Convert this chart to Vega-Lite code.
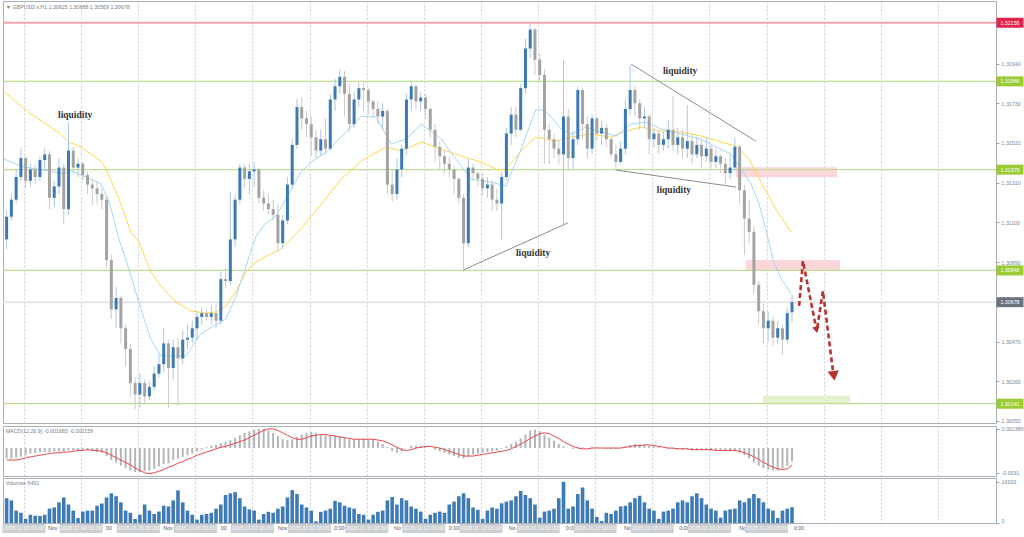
{
"$schema":"https://vega.github.io/schema/vega-lite/v6.json",
"background":"#ffffff",
"padding":{"left":0,"top":0,"right":0,"bottom":0},
"spacing":0,
"config":{
 "view":{"stroke":"#a9b0b8","strokeWidth":1},
 "axis":{"labelFont":"Liberation Sans","labelFontSize":5.3,"labelColor":"#7d8995","tickColor":"#9aa3ac","tickSize":3,"domain":false,"labelPadding":2},
 "text":{"font":"Liberation Sans"}
},
"datasets":{
"c":[
{"k":0,"o":1.3101,"h":1.3116,"l":1.3096,"c":1.3113,"v":10200,"m":-0.0013,"s":-0.0015},
{"k":1,"o":1.3113,"h":1.3125,"l":1.3111,"c":1.3122,"v":9300,"m":-0.0013,"s":-0.0015},
{"k":2,"o":1.3122,"h":1.3138,"l":1.3120,"c":1.3134,"v":5100,"m":-0.0012,"s":-0.0015},
{"k":3,"o":1.3134,"h":1.3149,"l":1.3132,"c":1.3144,"v":4200,"m":-0.0011,"s":-0.0014},
{"k":4,"o":1.3144,"h":1.3145,"l":1.3128,"c":1.3132,"v":1700,"m":-0.0009,"s":-0.0012},
{"k":5,"o":1.3132,"h":1.3141,"l":1.3129,"c":1.3138,"v":3400,"m":-0.0007,"s":-0.0011},
{"k":6,"o":1.3138,"h":1.3140,"l":1.3130,"c":1.3134,"v":3000,"m":-0.0006,"s":-0.0010},
{"k":7,"o":1.3134,"h":1.3145,"l":1.3132,"c":1.3143,"v":2900,"m":-0.0005,"s":-0.0009},
{"k":8,"o":1.3143,"h":1.3149,"l":1.3138,"c":1.3146,"v":3400,"m":-0.0005,"s":-0.0008},
{"k":9,"o":1.3146,"h":1.3148,"l":1.3117,"c":1.3123,"v":5900,"m":-0.0005,"s":-0.0007},
{"k":10,"o":1.3123,"h":1.3132,"l":1.3118,"c":1.3129,"v":6400,"m":-0.0004,"s":-0.0006},
{"k":11,"o":1.3129,"h":1.3144,"l":1.3125,"c":1.3139,"v":8500,"m":-0.0004,"s":-0.0006},
{"k":12,"o":1.3139,"h":1.3141,"l":1.3109,"c":1.3117,"v":10500,"m":-0.0004,"s":-0.0005},
{"k":13,"o":1.3117,"h":1.3163,"l":1.3114,"c":1.3148,"v":7600,"m":-0.0003,"s":-0.0005},
{"k":14,"o":1.3148,"h":1.3150,"l":1.3137,"c":1.3139,"v":5100,"m":-0.0003,"s":-0.0004},
{"k":15,"o":1.3139,"h":1.3144,"l":1.3134,"c":1.3141,"v":2000,"m":-0.0003,"s":-0.0003},
{"k":16,"o":1.3141,"h":1.3142,"l":1.3132,"c":1.3135,"v":4700,"m":-0.0003,"s":-0.0003},
{"k":17,"o":1.3135,"h":1.3137,"l":1.3125,"c":1.3130,"v":5100,"m":-0.0003,"s":-0.0002},
{"k":18,"o":1.3130,"h":1.3133,"l":1.3119,"c":1.3128,"v":5100,"m":-0.0004,"s":-0.0003},
{"k":19,"o":1.3128,"h":1.3132,"l":1.3120,"c":1.3125,"v":7100,"m":-0.0005,"s":-0.0003},
{"k":20,"o":1.3125,"h":1.3128,"l":1.3117,"c":1.3122,"v":8000,"m":-0.0006,"s":-0.0004},
{"k":21,"o":1.3122,"h":1.3124,"l":1.3086,"c":1.3090,"v":10500,"m":-0.0010,"s":-0.0006},
{"k":22,"o":1.3090,"h":1.3093,"l":1.3059,"c":1.3064,"v":12200,"m":-0.0015,"s":-0.0009},
{"k":23,"o":1.3064,"h":1.3076,"l":1.3054,"c":1.3070,"v":11000,"m":-0.0018,"s":-0.0012},
{"k":24,"o":1.3070,"h":1.3071,"l":1.3046,"c":1.3054,"v":8500,"m":-0.0022,"s":-0.0015},
{"k":25,"o":1.3054,"h":1.3056,"l":1.3034,"c":1.3043,"v":5100,"m":-0.0025,"s":-0.0018},
{"k":26,"o":1.3043,"h":1.3046,"l":1.3018,"c":1.3025,"v":4200,"m":-0.0028,"s":-0.0021},
{"k":27,"o":1.3025,"h":1.3028,"l":1.3011,"c":1.3019,"v":1700,"m":-0.0030,"s":-0.0025},
{"k":28,"o":1.3019,"h":1.3030,"l":1.3012,"c":1.3025,"v":3400,"m":-0.0030,"s":-0.0028},
{"k":29,"o":1.3025,"h":1.3027,"l":1.3014,"c":1.3018,"v":7600,"m":-0.0029,"s":-0.0031},
{"k":30,"o":1.3018,"h":1.3026,"l":1.3016,"c":1.3023,"v":5100,"m":-0.0028,"s":-0.0032},
{"k":31,"o":1.3023,"h":1.3034,"l":1.3021,"c":1.3030,"v":3700,"m":-0.0026,"s":-0.0031},
{"k":32,"o":1.3030,"h":1.3040,"l":1.3028,"c":1.3035,"v":4700,"m":-0.0023,"s":-0.0029},
{"k":33,"o":1.3035,"h":1.3054,"l":1.3031,"c":1.3046,"v":7100,"m":-0.0020,"s":-0.0027},
{"k":34,"o":1.3046,"h":1.3048,"l":1.3012,"c":1.3033,"v":6800,"m":-0.0019,"s":-0.0024},
{"k":35,"o":1.3033,"h":1.3048,"l":1.3027,"c":1.3044,"v":9300,"m":-0.0015,"s":-0.0022},
{"k":36,"o":1.3044,"h":1.3049,"l":1.3013,"c":1.3038,"v":13400,"m":-0.0013,"s":-0.0019},
{"k":37,"o":1.3038,"h":1.3053,"l":1.3035,"c":1.3048,"v":8500,"m":-0.0011,"s":-0.0017},
{"k":38,"o":1.3048,"h":1.3056,"l":1.3043,"c":1.3049,"v":5100,"m":-0.0009,"s":-0.0014},
{"k":39,"o":1.3049,"h":1.3058,"l":1.3046,"c":1.3054,"v":3400,"m":-0.0007,"s":-0.0012},
{"k":40,"o":1.3054,"h":1.3063,"l":1.3048,"c":1.3060,"v":1400,"m":-0.0004,"s":-0.0009},
{"k":41,"o":1.3060,"h":1.3065,"l":1.3056,"c":1.3062,"v":3400,"m":-0.0002,"s":-0.0007},
{"k":42,"o":1.3062,"h":1.3064,"l":1.3058,"c":1.3060,"v":3700,"m":0.0001,"s":-0.0005},
{"k":43,"o":1.3060,"h":1.3066,"l":1.3056,"c":1.3062,"v":4200,"m":0.0003,"s":-0.0003},
{"k":44,"o":1.3062,"h":1.3067,"l":1.3054,"c":1.3058,"v":5900,"m":0.0004,"s":-0.0001},
{"k":45,"o":1.3058,"h":1.3084,"l":1.3056,"c":1.3080,"v":7600,"m":0.0006,"s":0.0001},
{"k":46,"o":1.3080,"h":1.3086,"l":1.3075,"c":1.3079,"v":11500,"m":0.0008,"s":0.0002},
{"k":47,"o":1.3079,"h":1.3126,"l":1.3077,"c":1.3101,"v":12200,"m":0.0010,"s":0.0004},
{"k":48,"o":1.3101,"h":1.3125,"l":1.3097,"c":1.3122,"v":12700,"m":0.0013,"s":0.0006},
{"k":49,"o":1.3122,"h":1.3141,"l":1.3120,"c":1.3139,"v":10200,"m":0.0016,"s":0.0008},
{"k":50,"o":1.3139,"h":1.3141,"l":1.3128,"c":1.3133,"v":6800,"m":0.0019,"s":0.0010},
{"k":51,"o":1.3133,"h":1.3141,"l":1.3125,"c":1.3137,"v":5600,"m":0.0021,"s":0.0013},
{"k":52,"o":1.3137,"h":1.3142,"l":1.3129,"c":1.3138,"v":5100,"m":0.0023,"s":0.0016},
{"k":53,"o":1.3138,"h":1.3139,"l":1.3120,"c":1.3123,"v":1400,"m":0.0024,"s":0.0019},
{"k":54,"o":1.3123,"h":1.3127,"l":1.3116,"c":1.3120,"v":3700,"m":0.0024,"s":0.0022},
{"k":55,"o":1.3120,"h":1.3125,"l":1.3114,"c":1.3117,"v":4600,"m":0.0022,"s":0.0024},
{"k":56,"o":1.3117,"h":1.3122,"l":1.3111,"c":1.3114,"v":4200,"m":0.0019,"s":0.0024},
{"k":57,"o":1.3114,"h":1.3120,"l":1.3095,"c":1.3099,"v":5900,"m":0.0015,"s":0.0022},
{"k":58,"o":1.3099,"h":1.3114,"l":1.3096,"c":1.3111,"v":6800,"m":0.0011,"s":0.0019},
{"k":59,"o":1.3111,"h":1.3134,"l":1.3109,"c":1.3130,"v":10500,"m":0.0010,"s":0.0016},
{"k":60,"o":1.3130,"h":1.3154,"l":1.3128,"c":1.3151,"v":13500,"m":0.0011,"s":0.0013},
{"k":61,"o":1.3151,"h":1.3175,"l":1.3149,"c":1.3171,"v":11900,"m":0.0014,"s":0.0011},
{"k":62,"o":1.3171,"h":1.3176,"l":1.3159,"c":1.3165,"v":7600,"m":0.0017,"s":0.0011},
{"k":63,"o":1.3165,"h":1.3169,"l":1.3155,"c":1.3162,"v":6400,"m":0.0019,"s":0.0013},
{"k":64,"o":1.3162,"h":1.3166,"l":1.3145,"c":1.3155,"v":5100,"m":0.0020,"s":0.0015},
{"k":65,"o":1.3155,"h":1.3159,"l":1.3144,"c":1.3148,"v":700,"m":0.0019,"s":0.0016},
{"k":66,"o":1.3148,"h":1.3159,"l":1.3145,"c":1.3154,"v":4600,"m":0.0017,"s":0.0017},
{"k":67,"o":1.3154,"h":1.3165,"l":1.3146,"c":1.3149,"v":5100,"m":0.0016,"s":0.0017},
{"k":68,"o":1.3149,"h":1.3178,"l":1.3148,"c":1.3175,"v":5900,"m":0.0016,"s":0.0016},
{"k":69,"o":1.3175,"h":1.3186,"l":1.3169,"c":1.3182,"v":9100,"m":0.0015,"s":0.0015},
{"k":70,"o":1.3182,"h":1.3191,"l":1.3178,"c":1.3187,"v":8500,"m":0.0015,"s":0.0014},
{"k":71,"o":1.3187,"h":1.3190,"l":1.3166,"c":1.3178,"v":7100,"m":0.0013,"s":0.0013},
{"k":72,"o":1.3178,"h":1.3183,"l":1.3158,"c":1.3162,"v":6400,"m":0.0011,"s":0.0012},
{"k":73,"o":1.3162,"h":1.3179,"l":1.3160,"c":1.3175,"v":5900,"m":0.0011,"s":0.0011},
{"k":74,"o":1.3175,"h":1.3184,"l":1.3171,"c":1.3181,"v":3700,"m":0.0011,"s":0.0011},
{"k":75,"o":1.3181,"h":1.3184,"l":1.3169,"c":1.3180,"v":3400,"m":0.0012,"s":0.0011},
{"k":76,"o":1.3180,"h":1.3181,"l":1.3167,"c":1.3174,"v":1400,"m":0.0011,"s":0.0011},
{"k":77,"o":1.3174,"h":1.3175,"l":1.3166,"c":1.3170,"v":3400,"m":0.0010,"s":0.0011},
{"k":78,"o":1.3170,"h":1.3174,"l":1.3162,"c":1.3166,"v":4600,"m":0.0008,"s":0.0010},
{"k":79,"o":1.3166,"h":1.3173,"l":1.3159,"c":1.3169,"v":5100,"m":0.0005,"s":0.0009},
{"k":80,"o":1.3169,"h":1.3170,"l":1.3125,"c":1.3130,"v":9300,"m":0.0001,"s":0.0007},
{"k":81,"o":1.3130,"h":1.3138,"l":1.3121,"c":1.3125,"v":10700,"m":-0.0004,"s":0.0004},
{"k":82,"o":1.3125,"h":1.3144,"l":1.3122,"c":1.3138,"v":7600,"m":-0.0006,"s":0.0001},
{"k":83,"o":1.3138,"h":1.3151,"l":1.3134,"c":1.3149,"v":10200,"m":-0.0004,"s":-0.0002},
{"k":84,"o":1.3149,"h":1.3178,"l":1.3146,"c":1.3175,"v":9300,"m":0.0000,"s":-0.0003},
{"k":85,"o":1.3175,"h":1.3185,"l":1.3169,"c":1.3182,"v":6800,"m":0.0003,"s":-0.0002},
{"k":86,"o":1.3182,"h":1.3183,"l":1.3170,"c":1.3174,"v":5900,"m":0.0003,"s":0.0000},
{"k":87,"o":1.3174,"h":1.3179,"l":1.3169,"c":1.3176,"v":4700,"m":0.0003,"s":0.0001},
{"k":88,"o":1.3176,"h":1.3178,"l":1.3165,"c":1.3170,"v":1700,"m":0.0002,"s":0.0002},
{"k":89,"o":1.3170,"h":1.3171,"l":1.3155,"c":1.3159,"v":3400,"m":0.0000,"s":0.0002},
{"k":90,"o":1.3159,"h":1.3162,"l":1.3142,"c":1.3150,"v":4200,"m":-0.0002,"s":0.0001},
{"k":91,"o":1.3150,"h":1.3153,"l":1.3138,"c":1.3145,"v":4700,"m":-0.0004,"s":0.0000},
{"k":92,"o":1.3145,"h":1.3148,"l":1.3136,"c":1.3141,"v":4200,"m":-0.0006,"s":-0.0002},
{"k":93,"o":1.3141,"h":1.3145,"l":1.3134,"c":1.3138,"v":7600,"m":-0.0008,"s":-0.0004},
{"k":94,"o":1.3138,"h":1.3140,"l":1.3125,"c":1.3133,"v":8800,"m":-0.0010,"s":-0.0006},
{"k":95,"o":1.3133,"h":1.3134,"l":1.3120,"c":1.3123,"v":11000,"m":-0.0012,"s":-0.0008},
{"k":96,"o":1.3123,"h":1.3125,"l":1.3085,"c":1.3099,"v":12200,"m":-0.0013,"s":-0.0010},
{"k":97,"o":1.3099,"h":1.3144,"l":1.3097,"c":1.3139,"v":10200,"m":-0.0011,"s":-0.0010},
{"k":98,"o":1.3139,"h":1.3141,"l":1.3132,"c":1.3136,"v":6400,"m":-0.0008,"s":-0.0010},
{"k":99,"o":1.3136,"h":1.3137,"l":1.3129,"c":1.3133,"v":5400,"m":-0.0007,"s":-0.0009},
{"k":100,"o":1.3133,"h":1.3136,"l":1.3124,"c":1.3128,"v":1700,"m":-0.0006,"s":-0.0008},
{"k":101,"o":1.3128,"h":1.3134,"l":1.3123,"c":1.3130,"v":5100,"m":-0.0005,"s":-0.0007},
{"k":102,"o":1.3130,"h":1.3132,"l":1.3116,"c":1.3122,"v":6400,"m":-0.0004,"s":-0.0006},
{"k":103,"o":1.3122,"h":1.3128,"l":1.3116,"c":1.3120,"v":5900,"m":-0.0003,"s":-0.0005},
{"k":104,"o":1.3120,"h":1.3137,"l":1.3101,"c":1.3134,"v":8100,"m":-0.0001,"s":-0.0004},
{"k":105,"o":1.3134,"h":1.3160,"l":1.3132,"c":1.3157,"v":8800,"m":0.0002,"s":-0.0003},
{"k":106,"o":1.3157,"h":1.3171,"l":1.3151,"c":1.3167,"v":9300,"m":0.0005,"s":-0.0001},
{"k":107,"o":1.3167,"h":1.3171,"l":1.3155,"c":1.3159,"v":11000,"m":0.0008,"s":0.0002},
{"k":108,"o":1.3159,"h":1.3183,"l":1.3158,"c":1.3181,"v":13200,"m":0.0012,"s":0.0005},
{"k":109,"o":1.3181,"h":1.3207,"l":1.3178,"c":1.3202,"v":11500,"m":0.0017,"s":0.0008},
{"k":110,"o":1.3202,"h":1.3215,"l":1.3197,"c":1.3212,"v":10200,"m":0.0022,"s":0.0012},
{"k":111,"o":1.3212,"h":1.3213,"l":1.3188,"c":1.3196,"v":7600,"m":0.0023,"s":0.0015},
{"k":112,"o":1.3196,"h":1.3199,"l":1.3185,"c":1.3188,"v":2200,"m":0.0021,"s":0.0018},
{"k":113,"o":1.3188,"h":1.3191,"l":1.3141,"c":1.3159,"v":4700,"m":0.0017,"s":0.0019},
{"k":114,"o":1.3159,"h":1.3162,"l":1.3141,"c":1.3154,"v":5100,"m":0.0013,"s":0.0018},
{"k":115,"o":1.3154,"h":1.3157,"l":1.3144,"c":1.3149,"v":5900,"m":0.0009,"s":0.0015},
{"k":116,"o":1.3149,"h":1.3154,"l":1.3141,"c":1.3146,"v":10200,"m":0.0005,"s":0.0012},
{"k":117,"o":1.3146,"h":1.3196,"l":1.3109,"c":1.3166,"v":16933,"m":0.0002,"s":0.0008},
{"k":118,"o":1.3166,"h":1.3170,"l":1.3137,"c":1.3144,"v":5900,"m":0.0000,"s":0.0005},
{"k":119,"o":1.3144,"h":1.3158,"l":1.3138,"c":1.3154,"v":6800,"m":-0.0001,"s":0.0002},
{"k":120,"o":1.3154,"h":1.3182,"l":1.3151,"c":1.3180,"v":11900,"m":0.0001,"s":0.0000},
{"k":121,"o":1.3180,"h":1.3181,"l":1.3154,"c":1.3162,"v":14600,"m":0.0001,"s":-0.0001},
{"k":122,"o":1.3162,"h":1.3166,"l":1.3144,"c":1.3149,"v":9300,"m":0.0000,"s":-0.0001},
{"k":123,"o":1.3149,"h":1.3167,"l":1.3146,"c":1.3165,"v":5900,"m":0.0001,"s":0.0000},
{"k":124,"o":1.3165,"h":1.3166,"l":1.3153,"c":1.3157,"v":2500,"m":0.0001,"s":0.0000},
{"k":125,"o":1.3157,"h":1.3164,"l":1.3151,"c":1.3160,"v":800,"m":0.0000,"s":0.0000},
{"k":126,"o":1.3160,"h":1.3162,"l":1.3150,"c":1.3154,"v":4200,"m":-0.0001,"s":0.0000},
{"k":127,"o":1.3154,"h":1.3155,"l":1.3144,"c":1.3146,"v":3700,"m":-0.0001,"s":0.0000},
{"k":128,"o":1.3146,"h":1.3151,"l":1.3138,"c":1.3142,"v":5100,"m":-0.0001,"s":0.0000},
{"k":129,"o":1.3142,"h":1.3153,"l":1.3141,"c":1.3149,"v":6800,"m":0.0000,"s":0.0000},
{"k":130,"o":1.3149,"h":1.3175,"l":1.3146,"c":1.3170,"v":7100,"m":0.0002,"s":0.0001},
{"k":131,"o":1.3170,"h":1.3193,"l":1.3167,"c":1.3180,"v":8500,"m":0.0004,"s":0.0002},
{"k":132,"o":1.3180,"h":1.3182,"l":1.3166,"c":1.3173,"v":10200,"m":0.0005,"s":0.0003},
{"k":133,"o":1.3173,"h":1.3175,"l":1.3159,"c":1.3165,"v":11200,"m":0.0005,"s":0.0003},
{"k":134,"o":1.3165,"h":1.3171,"l":1.3160,"c":1.3166,"v":8500,"m":0.0004,"s":0.0004},
{"k":135,"o":1.3166,"h":1.3167,"l":1.3146,"c":1.3154,"v":5900,"m":0.0003,"s":0.0004},
{"k":136,"o":1.3154,"h":1.3160,"l":1.3150,"c":1.3157,"v":5100,"m":0.0002,"s":0.0003},
{"k":137,"o":1.3157,"h":1.3159,"l":1.3146,"c":1.3151,"v":1700,"m":0.0001,"s":0.0002},
{"k":138,"o":1.3151,"h":1.3158,"l":1.3148,"c":1.3154,"v":4700,"m":0.0000,"s":0.0001},
{"k":139,"o":1.3154,"h":1.3164,"l":1.3149,"c":1.3159,"v":5100,"m":-0.0001,"s":0.0000},
{"k":140,"o":1.3159,"h":1.3177,"l":1.3148,"c":1.3151,"v":5900,"m":-0.0001,"s":0.0000},
{"k":141,"o":1.3151,"h":1.3160,"l":1.3146,"c":1.3155,"v":8500,"m":-0.0002,"s":-0.0001},
{"k":142,"o":1.3155,"h":1.3159,"l":1.3144,"c":1.3149,"v":9300,"m":-0.0002,"s":-0.0001},
{"k":143,"o":1.3149,"h":1.3172,"l":1.3144,"c":1.3153,"v":8500,"m":-0.0002,"s":-0.0001},
{"k":144,"o":1.3153,"h":1.3157,"l":1.3141,"c":1.3146,"v":11000,"m":-0.0003,"s":-0.0002},
{"k":145,"o":1.3146,"h":1.3155,"l":1.3144,"c":1.3151,"v":12200,"m":-0.0003,"s":-0.0002},
{"k":146,"o":1.3151,"h":1.3154,"l":1.3139,"c":1.3145,"v":10200,"m":-0.0003,"s":-0.0002},
{"k":147,"o":1.3145,"h":1.3155,"l":1.3142,"c":1.3149,"v":7600,"m":-0.0003,"s":-0.0002},
{"k":148,"o":1.3149,"h":1.3151,"l":1.3138,"c":1.3142,"v":5900,"m":-0.0003,"s":-0.0002},
{"k":149,"o":1.3142,"h":1.3149,"l":1.3139,"c":1.3145,"v":5100,"m":-0.0003,"s":-0.0003},
{"k":150,"o":1.3145,"h":1.3146,"l":1.3136,"c":1.3141,"v":2200,"m":-0.0003,"s":-0.0003},
{"k":151,"o":1.3141,"h":1.3144,"l":1.3130,"c":1.3136,"v":5100,"m":-0.0004,"s":-0.0003},
{"k":152,"o":1.3136,"h":1.3146,"l":1.3133,"c":1.3139,"v":5600,"m":-0.0004,"s":-0.0003},
{"k":153,"o":1.3139,"h":1.3155,"l":1.3137,"c":1.3150,"v":5900,"m":-0.0004,"s":-0.0003},
{"k":154,"o":1.3150,"h":1.3151,"l":1.3120,"c":1.3127,"v":9300,"m":-0.0006,"s":-0.0004},
{"k":155,"o":1.3127,"h":1.3130,"l":1.3093,"c":1.3112,"v":8500,"m":-0.0009,"s":-0.0006},
{"k":156,"o":1.3112,"h":1.3122,"l":1.3099,"c":1.3105,"v":10200,"m":-0.0013,"s":-0.0008},
{"k":157,"o":1.3105,"h":1.3108,"l":1.3072,"c":1.3077,"v":11900,"m":-0.0018,"s":-0.0011},
{"k":158,"o":1.3077,"h":1.3079,"l":1.3056,"c":1.3063,"v":10200,"m":-0.0022,"s":-0.0014},
{"k":159,"o":1.3063,"h":1.3067,"l":1.3046,"c":1.3054,"v":8500,"m":-0.0025,"s":-0.0018},
{"k":160,"o":1.3054,"h":1.3063,"l":1.3047,"c":1.3058,"v":5900,"m":-0.0027,"s":-0.0021},
{"k":161,"o":1.3058,"h":1.3060,"l":1.3045,"c":1.3049,"v":5100,"m":-0.0028,"s":-0.0024},
{"k":162,"o":1.3049,"h":1.3058,"l":1.3046,"c":1.3054,"v":2000,"m":-0.0028,"s":-0.0026},
{"k":163,"o":1.3054,"h":1.3056,"l":1.3040,"c":1.3048,"v":5100,"m":-0.0026,"s":-0.0027},
{"k":164,"o":1.3048,"h":1.3065,"l":1.3046,"c":1.3062,"v":5900,"m":-0.0022,"s":-0.0026},
{"k":165,"o":1.30625,"h":1.3072,"l":1.30569,"c":1.30678,"v":6491,"m":-0.001683,"s":-0.002159}
],
"slow":[{"k":-0.76,"p":1.31795},{"k":5.1,"p":1.31673},{"k":8.3,"p":1.3162},{"k":11.4,"p":1.31567},{"k":13.1,"p":1.31525},{"k":15.6,"p":1.31499},{"k":19.8,"p":1.31425},{"k":20.9,"p":1.31382},{"k":23.6,"p":1.31224},{"k":26.1,"p":1.31049},{"k":27.8,"p":1.30996},{"k":30.3,"p":1.30838},{"k":32.4,"p":1.30764},{"k":35.6,"p":1.30679},{"k":38.7,"p":1.30631},{"k":41.9,"p":1.30621},{"k":44.0,"p":1.30626},{"k":46.1,"p":1.30658},{"k":48.2,"p":1.30737},{"k":50.3,"p":1.30838},{"k":52.4,"p":1.30891},{"k":55.5,"p":1.30933},{"k":57.6,"p":1.30959},{"k":61.8,"p":1.31065},{"k":66.1,"p":1.31197},{"k":70.3,"p":1.31329},{"k":74.5,"p":1.31425},{"k":79.7,"p":1.31499},{"k":82.9,"p":1.31477},{"k":87.1,"p":1.31525},{"k":91.3,"p":1.31488},{"k":95.5,"p":1.31451},{"k":99.7,"p":1.31419},{"k":103.2,"p":1.31377},{"k":104.9,"p":1.31382},{"k":108.1,"p":1.31477},{"k":111.2,"p":1.31551},{"k":115.4,"p":1.3153},{"k":118.6,"p":1.31551},{"k":122.8,"p":1.31567},{"k":127.0,"p":1.31551},{"k":130.1,"p":1.31583},{"k":133.3,"p":1.31604},{"k":137.5,"p":1.31583},{"k":141.7,"p":1.31578},{"k":145.9,"p":1.31557},{"k":150.1,"p":1.31525},{"k":153.2,"p":1.31504},{"k":156.0,"p":1.31435},{"k":158.5,"p":1.31313},{"k":161.6,"p":1.31171},{"k":164.8,"p":1.31049}],
"fast":[{"k":-0.5,"p":1.31435},{"k":3.0,"p":1.31398},{"k":6.2,"p":1.31382},{"k":9.3,"p":1.31372},{"k":11.8,"p":1.31356},{"k":13.5,"p":1.31372},{"k":16.7,"p":1.3134},{"k":19.8,"p":1.31303},{"k":21.5,"p":1.31213},{"k":23.6,"p":1.31012},{"k":25.5,"p":1.30869},{"k":28.2,"p":1.30642},{"k":30.3,"p":1.30484},{"k":32.4,"p":1.30393},{"k":34.5,"p":1.30394},{"k":37.7,"p":1.30394},{"k":40.8,"p":1.3051},{"k":43.4,"p":1.30552},{"k":46.1,"p":1.30589},{"k":48.2,"p":1.30711},{"k":50.3,"p":1.30869},{"k":52.4,"p":1.31028},{"k":54.5,"p":1.31097},{"k":56.6,"p":1.31134},{"k":58.7,"p":1.31224},{"k":61.8,"p":1.31366},{"k":64.0,"p":1.31419},{"k":67.1,"p":1.31472},{"k":71.3,"p":1.31578},{"k":74.5,"p":1.31662},{"k":77.6,"p":1.31657},{"k":80.8,"p":1.31514},{"k":83.9,"p":1.31541},{"k":87.1,"p":1.3162},{"k":91.3,"p":1.31541},{"k":94.4,"p":1.31435},{"k":97.6,"p":1.31329},{"k":101.8,"p":1.31313},{"k":104.9,"p":1.31292},{"k":108.1,"p":1.31488},{"k":111.2,"p":1.31699},{"k":113.3,"p":1.31689},{"k":116.5,"p":1.31594},{"k":118.6,"p":1.31567},{"k":121.7,"p":1.31604},{"k":124.9,"p":1.31578},{"k":128.0,"p":1.31557},{"k":131.2,"p":1.3162},{"k":134.3,"p":1.31631},{"k":137.5,"p":1.31594},{"k":141.7,"p":1.31567},{"k":145.9,"p":1.31541},{"k":149.0,"p":1.31499},{"k":152.2,"p":1.31462},{"k":154.3,"p":1.31382},{"k":156.4,"p":1.31303},{"k":158.1,"p":1.31197},{"k":159.5,"p":1.31065},{"k":161.0,"p":1.30906},{"k":162.7,"p":1.30801},{"k":164.8,"p":1.30727}],
"lv":[{"p":1.32156,"kind":"high"},{"p":1.31846,"kind":"lvl"},{"p":1.31379,"kind":"lvl"},{"p":1.30846,"kind":"lvl"},{"p":1.30678,"kind":"last"},{"p":1.30141,"kind":"lvl"}],
"zones":[{"k1":153.2,"k2":174.5,"p1":1.31339,"p2":1.31392,"z":"sell"},{"k1":155.3,"k2":175.1,"p1":1.30848,"p2":1.30901,"z":"sell"},{"k1":158.9,"k2":177.2,"p1":1.3014,"p2":1.30183,"z":"target"}],
"tl":[{"id":"a","k":95.9,"p":1.30848},{"id":"a","k":117.9,"p":1.31097},{"id":"b","k":131.2,"p":1.31937},{"id":"b","k":157.4,"p":1.3153},{"id":"c","k":128.0,"p":1.31377},{"id":"c","k":153.2,"p":1.31287}],
"arr":[{"i":1,"k":166.5,"p":1.30658},{"i":2,"k":167.3,"p":1.30896},{"i":3,"k":170.2,"p":1.30525},{"i":4,"k":171.5,"p":1.30737},{"i":5,"k":173.6,"p":1.30314}],
"heads":[{"h":"mid","k":170.15,"p":1.30531},{"h":"end","k":173.8,"p":1.30288}],
"liq":[{"k":14.4,"p":1.31668,"t":"liquidity"},{"k":110.6,"p":1.30938,"t":"liquidity"},{"k":141.5,"p":1.319,"t":"liquidity"},{"k":140.2,"p":1.31271,"t":"liquidity"}],
"days":[{"k":3.65,"d":"2025.11.03 00:00"},{"k":15.65,"d":"2025.11.04 00:00"},{"k":27.65,"d":"2025.11.05 00:00"},{"k":39.65,"d":"2025.11.06 00:00"},{"k":51.65,"d":"2025.11.07 00:00"},{"k":63.65,"d":"2025.11.10 00:00"},{"k":75.65,"d":"2025.11.11 00:00"},{"k":87.65,"d":"2025.11.12 00:00"},{"k":99.65,"d":"2025.11.13 00:00"},{"k":111.65,"d":"2025.11.14 00:00"},{"k":123.65,"d":"2025.11.17 00:00"},{"k":135.65,"d":"2025.11.18 00:00"},{"k":147.65,"d":"2025.11.19 00:00"},{"k":159.65,"d":"2025.11.20 00:00"}],
"frag":[{"k":8.7,"f":"Nov"},{"k":20.9,"f":"00"},{"k":32.9,"f":"Nov"},{"k":45.0,"f":"00"},{"k":57.0,"f":"Nov"},{"k":68.8,"f":"0:00"},{"k":81.4,"f":"No"},{"k":92.9,"f":"0:00"},{"k":105.5,"f":"No"},{"k":117.5,"f":"0:00"},{"k":129.7,"f":"No"},{"k":141.3,"f":"0:00"},{"k":153.9,"f":"No"},{"k":165.4,"f":"0:00"}]
},
"vconcat":[
{
"width":993,"height":422,
"layer":[
 {"data":{"name":"zones"},"mark":{"type":"rect"},
  "encoding":{
   "x":{"field":"k1","type":"quantitative","scale":{"domain":[-0.76,207.86],"nice":false,"zero":false},"axis":{"values":[3.65,15.65,27.65,39.65,51.65,63.65,75.65,87.65,99.65,111.65,123.65,135.65,147.65,159.65,171.65,183.65,195.65],"grid":true,"gridColor":"#ccd0d4","gridDash":[2,2],"labels":false,"ticks":false,"domain":false,"title":null},"title":null},
   "x2":{"field":"k2"},
   "y":{"field":"p1","type":"quantitative","scale":{"domain":[1.30039,1.32271],"nice":false,"zero":false},"axis":{"orient":"right","values":[1.3005,1.30155,1.3026,1.30365,1.3047,1.30575,1.3068,1.30785,1.3089,1.30995,1.311,1.31205,1.3131,1.31415,1.3152,1.31625,1.3173,1.31835,1.3194,1.32045,1.3215,1.32255],"format":".5f","grid":false,"title":null},"title":null},
   "y2":{"field":"p2"},
   "color":{"condition":{"test":"datum.z == 'target'","value":"#e2f2cf"},"value":"#fbd6da"}
  }},
 {"data":{"name":"lv"},"mark":{"type":"rule"},
  "encoding":{
   "y":{"field":"p","type":"quantitative","title":null},
   "color":{"condition":[{"test":"datum.kind == 'high'","value":"#f0a4ae"},{"test":"datum.kind == 'last'","value":"#e6e6e6"}],"value":"#c0df92"},
   "strokeWidth":{"condition":{"test":"datum.kind == 'lvl'","value":1.3},"value":2}
  }},
 {"data":{"name":"slow"},"mark":{"type":"line","color":"#ffd84a","strokeWidth":1},
  "encoding":{"x":{"field":"k","type":"quantitative","title":null},"y":{"field":"p","type":"quantitative","title":null}}},
 {"data":{"name":"fast"},"mark":{"type":"line","color":"#a6d6f2","strokeWidth":1},
  "encoding":{"x":{"field":"k","type":"quantitative","title":null},"y":{"field":"p","type":"quantitative","title":null}}},
 {"data":{"name":"tl"},"mark":{"type":"line","color":"#6e6e6e","strokeWidth":0.8},
  "encoding":{"x":{"field":"k","type":"quantitative","title":null},"y":{"field":"p","type":"quantitative","title":null},"detail":{"field":"id"}}},
 {"data":{"name":"c"},"mark":{"type":"rule","strokeWidth":1},
  "encoding":{"x":{"field":"k","type":"quantitative","title":null},"y":{"field":"l","type":"quantitative","title":null},"y2":{"field":"h"},
   "color":{"condition":{"test":"datum.c >= datum.o","value":"#a9c8e6"},"value":"#cacaca"}}},
 {"data":{"name":"c"},"mark":{"type":"rule","strokeWidth":3,"strokeCap":"butt"},
  "encoding":{"x":{"field":"k","type":"quantitative","title":null},"y":{"field":"o","type":"quantitative","title":null},"y2":{"field":"c"},
   "color":{"condition":{"test":"datum.c >= datum.o","value":"#3c79b6"},"value":"#a3a3a3"}}},
 {"data":{"name":"arr"},"mark":{"type":"line","color":"#b83330","strokeWidth":2.6,"strokeDash":[5,3]},
  "encoding":{"x":{"field":"k","type":"quantitative","title":null},"y":{"field":"p","type":"quantitative","title":null},"order":{"field":"i"}}},
 {"data":{"name":"heads"},"transform":[{"filter":"datum.h == 'end'"}],"mark":{"type":"point","shape":"triangle-down","filled":true,"color":"#b83330","size":130,"angle":352,"opacity":1},
  "encoding":{"x":{"field":"k","type":"quantitative","title":null},"y":{"field":"p","type":"quantitative","title":null}}},
 {"data":{"name":"heads"},"transform":[{"filter":"datum.h == 'mid'"}],"mark":{"type":"point","shape":"triangle-down","filled":true,"color":"#b83330","size":55,"angle":348,"opacity":1},
  "encoding":{"x":{"field":"k","type":"quantitative","title":null},"y":{"field":"p","type":"quantitative","title":null}}},
 {"data":{"name":"liq"},"mark":{"type":"text","font":"Liberation Serif","fontWeight":"bold","fontSize":9.5,"color":"#363636"},
  "encoding":{"x":{"field":"k","type":"quantitative","title":null},"y":{"field":"p","type":"quantitative","title":null},"text":{"field":"t"}}},
 {"data":{"values":[{"t":"▼ GBPUSD.s,H1  1.30625 1.30688 1.30569 1.30678"}]},"mark":{"type":"text","align":"left","baseline":"middle","fontSize":5.3,"color":"#7a808a"},
  "encoding":{"x":{"datum":-0.2,"title":null},"y":{"datum":1.3224,"title":null},"text":{"field":"t"}}},
 {"data":{"name":"lv"},"mark":{"type":"point","shape":"M-1,-0.37L1,-0.37L1,0.37L-1,0.37Z","size":729,"filled":true,"opacity":1,"strokeWidth":0},
  "encoding":{"x":{"datum":210.8,"title":null},"y":{"field":"p","type":"quantitative","title":null},
   "color":{"condition":[{"test":"datum.kind == 'high'","value":"#e3234b"},{"test":"datum.kind == 'last'","value":"#69737e"}],"value":"#9bcb34"}}},
 {"data":{"name":"lv"},"mark":{"type":"text","fontSize":5.3,"color":"#ffffff","align":"center","baseline":"middle"},
  "encoding":{"x":{"datum":210.8,"title":null},"y":{"field":"p","type":"quantitative","title":null},"text":{"field":"p","type":"quantitative","format":".5f"}}}
]
},
{
"width":993,"height":50,
"layer":[
 {"data":{"name":"c"},"mark":{"type":"rule","strokeWidth":2,"color":"#b5b5b5"},
  "encoding":{
   "x":{"field":"k","type":"quantitative","scale":{"domain":[-0.76,207.86],"nice":false,"zero":false},"axis":{"values":[3.65,15.65,27.65,39.65,51.65,63.65,75.65,87.65,99.65,111.65,123.65,135.65,147.65,159.65,171.65,183.65,195.65],"grid":true,"gridColor":"#ccd0d4","gridDash":[2,2],"labels":false,"ticks":false,"domain":false,"title":null},"title":null},
   "y":{"field":"m","type":"quantitative","scale":{"domain":[-0.0035,0.00276],"nice":false,"zero":false},"axis":{"orient":"right","values":[-0.0031,0,0.002386],"labelExpr":"datum.value == 0 ? '0.00' : (datum.value < 0 ? '-0.0031' : '0.002386')","grid":false,"title":null},"title":null},
   "y2":{"datum":0}
  }},
 {"data":{"name":"c"},"mark":{"type":"line","color":"#e8474c","strokeWidth":1},
  "encoding":{"x":{"field":"k","type":"quantitative","title":null},"y":{"field":"s","type":"quantitative","title":null}}},
 {"data":{"values":[{"t":"MACD(12,26,9) -0.001683 -0.002159"}]},"mark":{"type":"text","align":"left","baseline":"middle","fontSize":5.3,"color":"#7a808a"},
  "encoding":{"x":{"datum":-0.2,"title":null},"y":{"datum":0.00213,"title":null},"text":{"field":"t"}}}
]
},
{
"width":993,"height":45,
"layer":[
 {"data":{"name":"c"},"mark":{"type":"rule","strokeWidth":3.6,"color":"#3e7bb6","strokeCap":"butt"},
  "encoding":{
   "x":{"field":"k","type":"quantitative","scale":{"domain":[-0.76,207.86],"nice":false,"zero":false},"axis":{"values":[3.65,15.65,27.65,39.65,51.65,63.65,75.65,87.65,99.65,111.65,123.65,135.65,147.65,159.65,171.65,183.65,195.65],"grid":true,"gridColor":"#ccd0d4","gridDash":[2,2],"labels":false,"ticks":false,"domain":false,"title":null},"title":null},
   "y":{"field":"v","type":"quantitative","scale":{"domain":[0,18500],"nice":false},"axis":{"orient":"right","values":[0,16933],"format":"d","grid":false,"title":null,"labelBaseline":{"condition":{"test":"datum.value == 0","value":"bottom"},"value":"middle"}},"title":null},
   "y2":{"datum":0}
  }},
 {"data":{"values":[{"t":"Volumes 6491"}]},"mark":{"type":"text","align":"left","baseline":"middle","fontSize":5.3,"color":"#7a808a"},
  "encoding":{"x":{"datum":-0.2,"title":null},"y":{"datum":16400,"title":null},"text":{"field":"t"}}},
 {"data":{"name":"frag"},"mark":{"type":"text","align":"left","baseline":"middle","fontSize":5.3,"color":"#4e5866"},
  "encoding":{"x":{"field":"k","type":"quantitative","title":null},"y":{"datum":-2250,"title":null},"text":{"field":"f"}}},
 {"data":{"name":"days"},"mark":{"type":"point","shape":"M-1,-0.21L1,-0.21L1,0.21L-1,0.21Z","size":1849,"filled":true,"opacity":1,"color":"#cdd0d3","strokeWidth":0},
  "encoding":{"x":{"field":"k","type":"quantitative","title":null},"y":{"datum":-2250,"title":null}}},
 {"data":{"name":"days"},"mark":{"type":"text","align":"center","baseline":"middle","fontSize":5.3,"color":"#f7f7f7"},
  "encoding":{"x":{"field":"k","type":"quantitative","title":null},"y":{"datum":-2250,"title":null},"text":{"field":"d"}}}
]
}
]
}
